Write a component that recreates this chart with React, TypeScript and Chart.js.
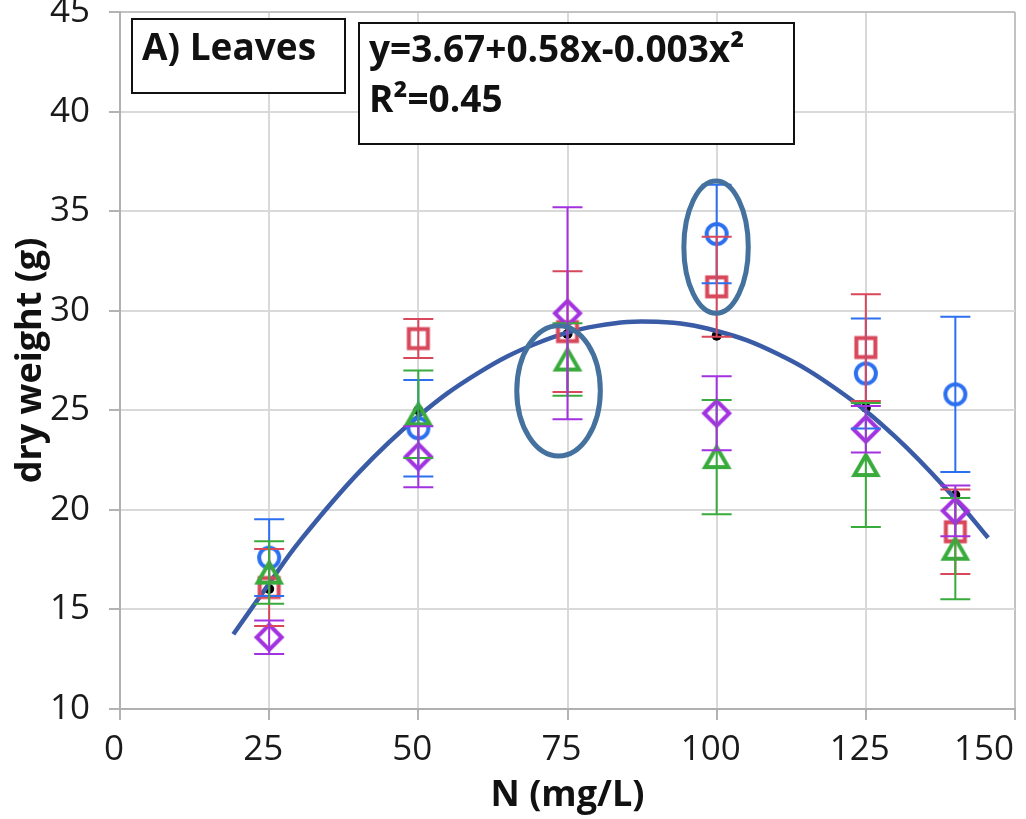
import React, { useEffect, useRef } from "react";
import { Chart, registerables } from "chart.js";

Chart.register(...registerables);

const FONT = '"Open Sans", "Noto Sans", sans-serif';

// ---- data ----
const nLevels = [25, 50, 75, 100, 125, 140];
const blueMean: (number | null)[] = [17.6, 24.1, null, 33.85, 26.85, 25.8];
const blueErr: (number | null)[] = [1.93, 2.42, null, 2.47, 2.76, 3.9];
const redMean = [16.1, 28.6, 28.95, 31.2, 28.15, 18.9];
const redErr = [1.93, 0.98, 3.03, 2.51, 2.68, 2.12];
const greenMean = [16.85, 24.8, 27.55, 22.65, 22.25, 18.05];
const greenErr = [1.57, 2.2, 1.82, 2.87, 3.11, 2.54];
const purpleMean = [13.6, 22.67, 29.87, 24.85, 24.05, 19.95];
const purpleErr = [0.84, 1.53, 5.32, 1.86, 1.17, 1.27];
const overallMean = [16.03, 25.0, 28.83, 28.74, 25.13, 20.75];

const trendX = [19, 25, 30, 40, 50, 60, 70, 80, 90, 100, 110, 120, 130, 140, 145.5];
const trendY = [13.75, 16.3, 18.38, 21.87, 24.7, 26.87, 28.38, 29.24, 29.44, 28.98, 27.86, 26.08, 23.65, 20.55, 18.6];

const xTickValues = [0, 25, 50, 75, 100, 125, 150];
const xTickLabels = ["0", "25", "50", "75", "100", "125", "150"];

const panelLabel = "A) Leaves";
const equationText = "y=3.67+0.58x-0.003x²";
const r2Text = "R²=0.45";
const xTitle = "N (mg/L)";
const yTitle = "dry weight (g)";

// highlight ellipses, in data units
const highlightEllipses = [
  { cx: 73.5, cy: 25.98, rx: 7.0, ry: 3.27 },
  { cx: 99.9, cy: 33.19, rx: 5.4, ry: 3.32 },
];

const COLORS = {
  blue: "#2c70f0",
  red: "#d8475a",
  green: "#39ab3c",
  purple: "#a232e0",
  curve: "#3a5ba6",
  ellipse: "#44719d",
};

function makeMarker(shape: string, color: string): HTMLCanvasElement {
  const c = document.createElement("canvas");
  c.width = 40;
  c.height = 40;
  const g = c.getContext("2d")!;
  g.strokeStyle = color;
  g.lineWidth = 4;
  g.lineJoin = "miter";
  g.beginPath();
  if (shape === "circle") {
    g.arc(20, 20, 10, 0, Math.PI * 2);
  } else if (shape === "square") {
    g.rect(20 - 9.5, 20 - 9.5, 19, 19);
  } else if (shape === "triangle") {
    g.moveTo(20, 20 - 10);
    g.lineTo(20 + 11.5, 20 + 10);
    g.lineTo(20 - 11.5, 20 + 10);
    g.closePath();
  } else {
    g.moveTo(20, 7.5);
    g.lineTo(32.5, 20);
    g.lineTo(20, 32.5);
    g.lineTo(7.5, 20);
    g.closePath();
  }
  g.stroke();
  return c;
}

const toPoints = (ys: (number | null)[]) =>
  nLevels
    .map((x, i) => (ys[i] == null ? null : { x, y: ys[i] as number }))
    .filter((p) => p !== null) as { x: number; y: number }[];

export default function App() {
  const ref = useRef<HTMLCanvasElement | null>(null);

  useEffect(() => {
    if (!ref.current) return;

    const seriesList = [
      { mean: blueMean, err: blueErr, color: COLORS.blue },
      { mean: redMean, err: redErr, color: COLORS.red },
      { mean: greenMean, err: greenErr, color: COLORS.green },
      { mean: purpleMean, err: purpleErr, color: COLORS.purple },
    ];

    const errorBarPlugin = {
      id: "errorBars",
      afterDatasetsDraw(chart: any) {
        const { ctx, scales } = chart;
        const xs = scales.x;
        const ys = scales.y;
        ctx.save();
        ctx.lineWidth = 2;
        for (const s of seriesList) {
          ctx.strokeStyle = s.color;
          nLevels.forEach((n, i) => {
            const m = s.mean[i];
            const e = s.err[i];
            if (m == null || e == null) return;
            const px = xs.getPixelForValue(n);
            const top = ys.getPixelForValue(m + e);
            const bot = ys.getPixelForValue(m - e);
            ctx.beginPath();
            ctx.moveTo(px, top);
            ctx.lineTo(px, bot);
            ctx.moveTo(px - 15, top);
            ctx.lineTo(px + 15, top);
            ctx.moveTo(px - 15, bot);
            ctx.lineTo(px + 15, bot);
            ctx.stroke();
          });
        }
        ctx.restore();
      },
    };

    const overlayPlugin = {
      id: "overlay",
      afterDraw(chart: any) {
        const { ctx, chartArea: a, scales } = chart;
        const xs = scales.x;
        const ys = scales.y;
        ctx.save();
        // ellipses
        ctx.strokeStyle = COLORS.ellipse;
        ctx.lineWidth = 5;
        for (const e of highlightEllipses) {
          const cx = xs.getPixelForValue(e.cx);
          const cy = ys.getPixelForValue(e.cy);
          const rx = Math.abs(xs.getPixelForValue(e.cx + e.rx) - cx);
          const ry = Math.abs(ys.getPixelForValue(e.cy + e.ry) - cy);
          ctx.beginPath();
          ctx.ellipse(cx, cy, rx, ry, 0, 0, Math.PI * 2);
          ctx.stroke();
        }
        // x tick labels
        ctx.fillStyle = "#1a1a1a";
        ctx.font = `35px ${FONT}`;
        ctx.textAlign = "center";
        ctx.textBaseline = "alphabetic";
        xTickValues.forEach((v, i) => {
          const label = xTickLabels[i];
          const w = ctx.measureText(label).width;
          let px = xs.getPixelForValue(v) - 6;
          if (px + w / 2 > a.right - 1) px = a.right - 1 - w / 2;
          ctx.fillText(label, px, a.bottom + 51);
        });
        // text boxes
        const boxes = [
          { x: a.left + 12, y: a.top + 7, w: 213, h: 74, lines: [{ t: panelLabel, dx: 10, dy: 41 }] },
          {
            x: a.left + 239,
            y: a.top + 11,
            w: 435,
            h: 121,
            lines: [
              { t: equationText, dx: 10, dy: 39 },
              { t: r2Text, dx: 10, dy: 89 },
            ],
          },
        ];
        for (const b of boxes) {
          ctx.fillStyle = "#ffffff";
          ctx.fillRect(b.x, b.y, b.w, b.h);
          ctx.strokeStyle = "#111111";
          ctx.lineWidth = 2;
          ctx.strokeRect(b.x, b.y, b.w, b.h);
          ctx.fillStyle = "#111111";
          ctx.font = `bold 37px ${FONT}`;
          ctx.textAlign = "left";
          ctx.textBaseline = "alphabetic";
          for (const l of b.lines) ctx.fillText(l.t, b.x + l.dx, b.y + l.dy);
        }
        ctx.restore();
      },
    };

    const markerDataset = (label: string, ys: (number | null)[], shape: string, color: string, order: number) => ({
      label,
      data: toPoints(ys),
      pointStyle: makeMarker(shape, color),
      pointRadius: 10,
      pointHoverRadius: 10,
      borderColor: color,
      backgroundColor: "transparent",
      showLine: false,
      order,
    });

    const chart = new Chart(ref.current, {
      type: "scatter",
      data: {
        datasets: [
          markerDataset("purple", purpleMean, "diamond", COLORS.purple, 1),
          markerDataset("green", greenMean, "triangle", COLORS.green, 2),
          markerDataset("red", redMean, "square", COLORS.red, 3),
          markerDataset("blue", blueMean, "circle", COLORS.blue, 4),
          {
            label: "trend",
            data: trendX.map((x, i) => ({ x, y: trendY[i] })),
            showLine: true,
            pointRadius: 0,
            borderColor: COLORS.curve,
            borderWidth: 4.5,
            tension: 0.4,
            order: 8,
          } as any,
          {
            label: "mean",
            data: toPoints(overallMean),
            pointStyle: "circle",
            pointRadius: 5,
            backgroundColor: "#000000",
            borderColor: "#000000",
            borderWidth: 0,
            showLine: false,
            order: 9,
          } as any,
        ],
      },
      options: {
        animation: false,
        responsive: false,
        layout: { padding: { top: 12, right: 10, left: 0, bottom: 0 } },
        plugins: { legend: { display: false }, tooltip: { enabled: false } },
        scales: {
          x: {
            type: "linear",
            min: 0,
            max: 150,
            afterBuildTicks: (s: any) => {
              s.ticks = xTickValues.map((v) => ({ value: v }));
            },
            ticks: { display: false },
            grid: {
              color: (c: any) => (c.tick && c.tick.value === 150 ? "#c2c2c2" : "#d9d9d9"),
              lineWidth: 2,
              drawTicks: true,
              tickLength: 11,
              tickColor: "#b3b3b3",
              tickWidth: 2,
            },
            border: { color: "#b0b0b0", width: 2 },
            title: {
              display: true,
              text: xTitle,
              color: "#111111",
              font: { family: FONT, size: 36, weight: "bold" },
              padding: { top: 0, bottom: 2 },
            },
            afterFit: (s: any) => {
              s.height = 110;
              s.paddingLeft = 0;
              s.paddingRight = 0;
            },
          },
          y: {
            type: "linear",
            min: 10,
            max: 45,
            ticks: {
              stepSize: 5,
              color: "#1a1a1a",
              font: { family: FONT, size: 35 },
              padding: 19,
            },
            grid: {
              color: (c: any) => (c.tick && c.tick.value === 45 ? "#c2c2c2" : "#d9d9d9"),
              lineWidth: 2,
              drawTicks: true,
              tickLength: 11,
              tickColor: "#b3b3b3",
              tickWidth: 2,
            },
            border: { color: "#b0b0b0", width: 2 },
            title: {
              display: true,
              text: yTitle,
              color: "#111111",
              font: { family: FONT, size: 36, weight: "bold" },
              padding: { top: 9, bottom: 0 },
            },
            afterFit: (s: any) => {
              s.width = 120;
              s.paddingTop = 0;
              s.paddingBottom = 0;
            },
          },
        },
      } as any,
      plugins: [errorBarPlugin, overlayPlugin],
    });

    return () => chart.destroy();
  }, []);

  return (
    <div style={{ position: "fixed", left: 0, top: 0, width: 1026, height: 819, background: "#ffffff" }}>
      <canvas ref={ref} width={1026} height={819} style={{ width: 1026, height: 819, display: "block" }} />
    </div>
  );
}
